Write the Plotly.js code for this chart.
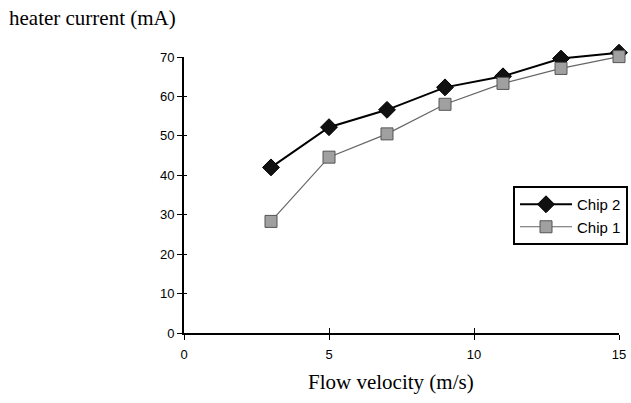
<!DOCTYPE html>
<html><head><meta charset="utf-8">
<script src="https://cdn.plot.ly/plotly-3.0.1.min.js"></script>
<style>html,body{margin:0;padding:0;background:#fff}#c{width:631px;height:403px}</style>
</head><body><div id="c"></div>
<script>
const velocity = [3, 5, 7, 9, 11, 13, 15];
const chip2 = [42, 52.2, 56.6, 62.3, 65.1, 69.6, 71.1];
const chip1 = [28.3, 44.6, 50.5, 58, 63.3, 67.1, 70.1];
const xTicks = [0, 5, 10, 15];
const yTicks = [0, 10, 20, 30, 40, 50, 60, 70];
const xMax = 15, yMax = 70;

// plot-area geometry (pixels)
const W = 631, H = 403, mL = 184, mR = 6, mT = 45, mB = 70;
const pw = W - mL - mR, ph = H - mT - mB;
const axW = 435, axH = 276;           // visible axes length
const xFrac = axW / pw, yFrac = axH / ph;

const traces = [
  {x: velocity, y: chip2, name: 'Chip 2', mode: 'lines+markers', type: 'scatter', cliponaxis: false,
   xaxis: 'x2', yaxis: 'y2',
   line: {color: '#000', width: 2},
   marker: {symbol: 'diamond', size: 13, color: '#111', line: {color: '#000', width: 1}}},
  {x: velocity, y: chip1, name: 'Chip 1', mode: 'lines+markers', type: 'scatter', cliponaxis: false,
   xaxis: 'x2', yaxis: 'y2',
   line: {color: '#666', width: 1.2},
   marker: {symbol: 'square', size: 12, color: '#a0a0a0', line: {color: '#555', width: 1}}},
  {x: [], y: [], xaxis: 'x', yaxis: 'y', showlegend: false, type: 'scatter'},
  {x: [], y: [], xaxis: 'x3', yaxis: 'y3', showlegend: false, type: 'scatter'}
];

const tickFont = {family: 'Liberation Sans, Arial, sans-serif', size: 13, color: '#000'};
const serif = 'Liberation Serif, Times New Roman, serif';
const layout = {
  width: W, height: H,
  margin: {l: mL, r: mR, t: mT, b: mB, autoexpand: false},
  paper_bgcolor: '#fff', plot_bgcolor: 'rgba(0,0,0,0)',
  showlegend: true,
  legend: {x: (513 - mL) / pw, y: (H - mB - 186) / ph, xanchor: 'left', yanchor: 'top', bgcolor: '#fff',
           bordercolor: '#000', borderwidth: 2, itemwidth: 52,
           font: {family: 'Liberation Sans, Arial, sans-serif', size: 15, color: '#000'},
           tracegroupgap: 2},
  xaxis: {domain: [0, xFrac], anchor: 'y', range: [0, xMax], tickvals: xTicks, ticktext: xTicks.map(String),
          automargin: false, ticks: 'outside', ticklen: 5, tickwidth: 1, tickcolor: '#000',
          showline: true, linecolor: '#000', linewidth: 2, showgrid: false, zeroline: false,
          tickfont: tickFont, ticklabelstandoff: 3},
  yaxis: {domain: [0, yFrac], anchor: 'x', range: [0, yMax], tickvals: yTicks, automargin: false,
          ticks: 'outside', ticklen: 5, tickwidth: 1, tickcolor: '#000',
          showline: true, linecolor: '#000', linewidth: 2, showgrid: false, zeroline: false,
          tickfont: tickFont, ticklabelstandoff: 0},
  xaxis3: {domain: [0, xFrac], anchor: 'y3', overlaying: 'x', range: [0, xMax], tickvals: xTicks,
           automargin: false, ticks: 'inside', ticklen: 5, tickcolor: '#000', showticklabels: false,
           showgrid: false, zeroline: false, showline: false},
  yaxis3: {domain: [0, yFrac], anchor: 'x3', overlaying: 'y', range: [0, yMax], tickvals: yTicks,
           automargin: false, ticks: 'inside', ticklen: 3, tickcolor: '#000', showticklabels: false,
           showgrid: false, zeroline: false, showline: false},
  xaxis2: {domain: [0, 1], anchor: 'y2', range: [0, xMax / xFrac], visible: false, automargin: false},
  yaxis2: {domain: [0, 1], anchor: 'x2', range: [0, yMax / yFrac], visible: false, automargin: false},
  annotations: [
    {text: 'heater current (mA)', xref: 'paper', yref: 'paper',
     x: (7 - mL) / pw, y: (H - mB - 18) / ph,
     xanchor: 'left', yanchor: 'middle', showarrow: false,
     font: {family: serif, size: 21, color: '#000'}},
    {text: 'Flow velocity (m/s)', xref: 'paper', yref: 'paper',
     x: (391 - mL) / pw, y: (H - mB - 382) / ph,
     xanchor: 'center', yanchor: 'middle', showarrow: false,
     font: {family: serif, size: 21, color: '#000'}}
  ]
};
Plotly.newPlot('c', traces, layout, {displayModeBar: false, staticPlot: true});
</script></body></html>
